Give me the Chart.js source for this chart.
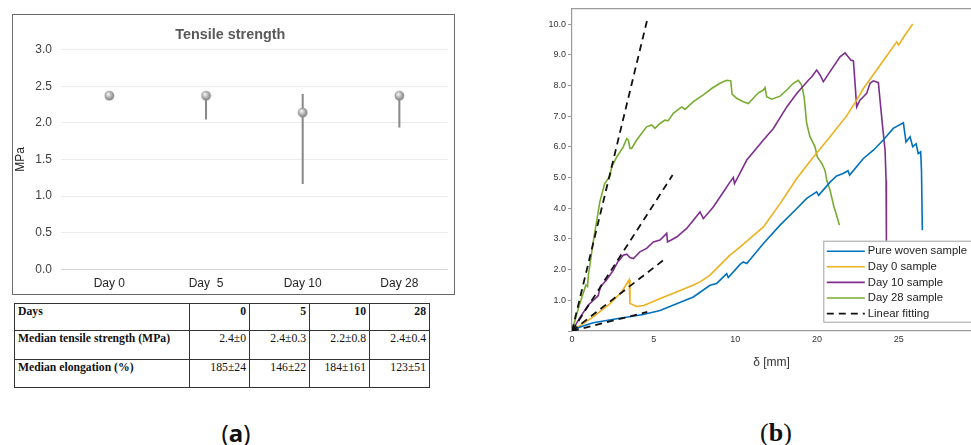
<!DOCTYPE html>
<html><head><meta charset="utf-8">
<script src="https://cdn.jsdelivr.net/npm/chart.js@4"></script>
<style>
html,body{margin:0;padding:0;background:#fff;width:971px;height:445px;overflow:hidden;position:relative;font-family:"Liberation Sans",Arial,sans-serif;}
#boxA{position:absolute;left:12px;top:14px;width:441px;height:279px;border:1px solid #6b6b6b;}
#boxB{position:absolute;left:520px;top:0;width:451px;height:380px;}
canvas{display:block}
table{position:absolute;left:14px;top:303px;width:415px;table-layout:fixed;border-collapse:collapse;font-family:"Liberation Serif","Times New Roman",serif;font-size:11.7px;color:#111;border:1.5px solid #222;}
td{border:1px solid #333;padding:1px 3px;vertical-align:top;text-align:right;}
td.h{text-align:left;font-weight:bold;}
tr.top td{font-weight:bold;}
.lab{position:absolute;top:418px;width:100px;text-align:center;font-size:24px;line-height:30px;color:#111;}
</style>
</head><body>
<div id="boxA"><canvas id="cA" width="441" height="279"></canvas></div>
<div id="boxB"><canvas id="cB" width="451" height="380"></canvas></div>
<table id="tbl">
<colgroup><col style="width:175px"><col style="width:60px"><col style="width:60px"><col style="width:60px"><col style="width:60px"></colgroup>
<tbody id="tb"></tbody>
</table>
<div class="lab" style="left:186px;font-family:'Noto Sans',sans-serif;">(<b>a</b>)</div>
<div class="lab" style="left:726px;font-family:'Liberation Serif',serif;font-size:26px;">(<b>b</b>)</div>
<script>
// ---------- data: panel (a) ----------
const days = ['Day 0', 'Day  5', 'Day 10', 'Day 28'];
const medianMPa = [2.37, 2.37, 2.14, 2.37];
const rangeLowMPa = [2.37, 2.05, 1.17, 1.94];
const rangeHighMPa = [2.37, 2.37, 2.39, 2.37];

// ---------- data: table ----------
const tableDays = ['0', '5', '10', '28'];
const tableStrength = ['2.4±0', '2.4±0.3', '2.2±0.8', '2.4±0.4'];
const tableElongation = ['185±24', '146±22', '184±161', '123±51'];

// ---------- data: panel (b) ----------
const xTickLabels = ['0', '5', '10', '20', '25'];
const pureWovenXY = [[0,0],[0.5,0.13],[1.3,0.27],[2.74,0.4],[4.37,0.54],[5.39,0.67],[6.41,0.89],[7.43,1.11],[8.45,1.49],[8.86,1.55],[9.47,1.87],[9.57,1.74],[10.29,2.17],[10.49,2.25],[10.7,2.2],[11.72,2.85],[12.74,3.45],[13.76,3.99],[14.37,4.32],[14.98,4.53],[15.1,4.42],[15.8,4.85],[16.2,5.05],[16.6,5.13],[16.9,5.22],[17.0,5.08],[17.84,5.62],[18.45,5.89],[19.06,6.22],[19.67,6.6],[20.29,6.78],[20.45,6.16],[20.7,6.33],[20.86,6.0],[21.07,6.1],[21.2,5.78],[21.35,5.84],[21.4,5.2],[21.45,3.28]];
const day0XY = [[0,0],[1.3,0.46],[2.33,0.89],[3.04,1.27],[3.5,1.67],[3.55,0.9],[3.96,0.8],[4.4,0.83],[5.4,1.06],[6.4,1.27],[7.4,1.49],[7.84,1.6],[8.45,1.82],[9.67,2.47],[10.3,2.74],[11.72,3.39],[12.74,4.15],[13.76,4.97],[14.78,5.67],[15.8,6.33],[16.8,7.0],[17.43,7.52],[17.84,7.9],[18.86,8.66],[19.88,9.42],[20.0,9.32],[20.4,9.65],[20.86,10.0]];
const day10XY = [[0,0],[0.5,0.45],[1.0,0.85],[1.3,1.0],[1.6,1.15],[1.75,1.45],[1.92,1.55],[2.1,1.65],[2.53,1.98],[2.8,2.25],[3.14,2.47],[3.35,2.5],[3.55,2.39],[3.76,2.36],[4.16,2.58],[4.57,2.69],[4.98,2.9],[5.39,2.96],[5.8,3.18],[5.85,2.9],[6.41,3.06],[7.02,3.34],[7.43,3.61],[7.84,3.88],[8.04,3.66],[8.65,4.04],[9.27,4.53],[9.67,4.85],[9.88,5.0],[9.95,4.8],[10.7,5.57],[11.72,6.22],[12.33,6.6],[13.15,7.3],[13.76,7.74],[14.47,8.17],[14.68,8.28],[14.98,8.5],[15.19,8.34],[15.39,8.12],[15.8,8.45],[16.41,8.93],[16.72,9.06],[16.92,8.93],[17.07,8.83],[17.23,8.8],[17.33,8.07],[17.43,7.3],[17.63,7.52],[17.84,7.63],[18.04,7.74],[18.25,8.07],[18.45,8.15],[18.76,8.09],[18.86,7.52],[19.02,6.65],[19.17,5.89],[19.23,4.91],[19.25,2.9]];
const day28XY = [[0,0],[0.45,0.85],[0.85,1.5],[0.95,1.45],[1.0,1.8],[1.3,2.9],[1.7,4.2],[2.0,4.8],[2.33,5.05],[2.43,5.35],[2.74,5.67],[3.14,6.0],[3.35,6.27],[3.45,6.22],[3.55,5.95],[3.65,5.95],[3.96,6.22],[4.27,6.44],[4.57,6.65],[4.88,6.71],[5.08,6.6],[5.39,6.76],[5.69,6.87],[5.9,6.85],[6.2,7.09],[6.72,7.3],[6.92,7.22],[7.43,7.47],[8.04,7.69],[8.55,7.9],[9.06,8.07],[9.47,8.17],[9.72,8.15],[9.8,7.72],[10.08,7.58],[10.49,7.47],[10.8,7.41],[11.1,7.58],[11.41,7.76],[11.72,7.85],[11.82,7.93],[11.92,7.63],[12.23,7.55],[12.74,7.65],[13.15,7.85],[13.55,8.07],[13.86,8.17],[14.06,8.01],[14.21,7.63],[14.37,6.76],[14.57,6.33],[14.88,6.0],[15.02,5.67],[15.29,5.46],[15.49,5.24],[15.6,4.91],[15.8,4.59],[16.04,4.04],[16.17,3.83],[16.37,3.45]];
const fitDay28XY = [[0,0],[4.61,10.15]];
const fitDay10XY = [[0,0],[6.16,5.08]];
const fitDay0XY = [[0,0],[5.65,2.33]];
const fitPureXY = [[0,0],[4.61,0.62]];
const legendLabels = ['Pure woven sample', 'Day 0 sample', 'Day 10 sample', 'Day 28 sample', 'Linear fitting'];

// ---------- table ----------
(function(){
  const tb = document.getElementById('tb');
  const rows = [['Days', tableDays, 24, true], ['Median tensile strength (MPa)', tableStrength, 26, false], ['Median elongation (%)', tableElongation, 25, false]];
  rows.forEach(r => {
    const tr = document.createElement('tr');
    if (r[3]) tr.className = 'top';
    const th = document.createElement('td'); th.className = 'h'; th.textContent = r[0]; th.style.height = r[2] + 'px'; tr.appendChild(th);
    r[1].forEach(v => { const td = document.createElement('td'); td.textContent = v; tr.appendChild(td); });
    tb.appendChild(tr);
  });
})();

// ---------- panel (a) ----------
const marker = document.createElement('canvas');
marker.width = 11; marker.height = 11;
(function(){
  const m = marker.getContext('2d');
  const g = m.createRadialGradient(4.2, 3.8, 0.5, 5.5, 5.5, 5.5);
  g.addColorStop(0, '#f4f4f4'); g.addColorStop(0.55, '#a8a8a8'); g.addColorStop(1, '#6e6e6e');
  m.fillStyle = g; m.beginPath(); m.arc(5.5, 5.5, 4.8, 0, Math.PI * 2); m.fill();
})();

new Chart(document.getElementById('cA'), {
  type: 'bar',
  data: {
    labels: days,
    datasets: [
      { type: 'line', data: medianMPa, showLine: false, pointStyle: marker, pointRadius: 5, order: 0 },
      { type: 'bar', data: days.map((d, i) => [rangeLowMPa[i], rangeHighMPa[i]]), backgroundColor: '#8a8a8a', barThickness: 1.4, borderWidth: 0, order: 1 }
    ]
  },
  options: {
    responsive: false, animation: false, devicePixelRatio: 1,
    layout: { padding: { left: 0, right: 6.3, top: 0, bottom: 0 } },
    plugins: {
      legend: { display: false }, tooltip: { enabled: false },
      title: { display: true, text: 'Tensile strength', color: '#595959', font: { family: '"Liberation Sans", Arial, sans-serif', size: 14.4, weight: 'bold' }, padding: { top: 11.4, bottom: 5.9 } }
    },
    scales: {
      x: { grid: { display: false, drawTicks: false }, border: { display: false },
        ticks: { color: '#262626', font: { family: '"Liberation Sans", Arial, sans-serif', size: 12 }, padding: 7 },
        afterFit(s) { s.height = 24.7; } },
      y: { min: 0, max: 3,
        ticks: { stepSize: 0.5, callback: v => Number(v).toFixed(1), padding: 9, color: '#404040', font: { family: '"Liberation Sans", Arial, sans-serif', size: 12 } },
        grid: { drawTicks: false, color: c => (c.tick && c.tick.value === 0) ? '#d4d4d4' : '#ebebeb' },
        border: { display: false },
        title: { display: true, text: 'MPa', padding: 0, color: '#222', font: { family: '"Liberation Sans", Arial, sans-serif', size: 12 } },
        afterFit(s) { s.width = 48; } }
    }
  }
});

// ---------- panel (b) ----------
const toPts = a => a.map(p => ({ x: p[0], y: p[1] }));
const curveColors = ['#0072BD', '#EDB120', '#7E2F8E', '#77AC30'];
const curves = [pureWovenXY, day0XY, day10XY, day28XY];
const fits = [fitDay28XY, fitDay10XY, fitDay0XY, fitPureXY];
const datasetsB = [];
curves.forEach((c, i) => datasetsB.push({ label: legendLabels[i], data: toPts(c), borderColor: curveColors[i], borderWidth: 1.6, pointRadius: 0, showLine: true, order: 2 }));
fits.forEach((f, i) => datasetsB.push({ label: legendLabels[4], data: toPts(f), borderColor: '#111', borderWidth: 1.8, borderDash: [7, 5], pointRadius: 0, showLine: true, order: 0 }));

const boxLegend = {
  id: 'boxLegend',
  afterDatasetsDraw(chart) {
    const ctx = chart.ctx, a = chart.chartArea;
    const w = 147, h = 81, x0 = a.right - w - 0.7, y0 = a.bottom - h - 9.3;
    ctx.save();
    ctx.fillStyle = '#fff'; ctx.fillRect(x0, y0, w + 2, h);
    ctx.strokeStyle = '#a0a0a0'; ctx.lineWidth = 1; ctx.strokeRect(x0 + 0.5, y0 + 0.5, w + 2, h);
    ctx.font = '11.3px "Liberation Sans", Arial, sans-serif';
    ctx.textBaseline = 'middle'; ctx.fillStyle = '#222';
    legendLabels.forEach((lab, i) => {
      const ds = chart.data.datasets[Math.min(i, 4)];
      const yy = y0 + 10.5 + i * 15.6;
      ctx.strokeStyle = ds.borderColor; ctx.lineWidth = ds.borderWidth;
      ctx.setLineDash(ds.borderDash || []);
      ctx.beginPath(); ctx.moveTo(x0 + 3.5, yy); ctx.lineTo(x0 + 41.5, yy); ctx.stroke();
      ctx.setLineDash([]);
      ctx.fillText(lab, x0 + 44.5, yy);
    });
    ctx.restore();
  }
};

const fontB = '"Liberation Sans", Arial, sans-serif';
new Chart(document.getElementById('cB'), {
  type: 'scatter',
  data: { datasets: datasetsB },
  plugins: [boxLegend],
  options: {
    responsive: false, animation: false, devicePixelRatio: 1,
    layout: { padding: { left: 0, right: 0, top: 9, bottom: 0 } },
    plugins: { legend: { display: false }, tooltip: { enabled: false } },
    elements: { line: { tension: 0 } },
    scales: {
      x: { type: 'linear', min: 0, max: 24.43,
        ticks: { stepSize: 5, includeBounds: false, callback: v => { const k = Math.round(v / 5); return xTickLabels[k] !== undefined ? xTickLabels[k] : ''; }, color: '#333', font: { family: fontB, size: 9 }, padding: 3, maxRotation: 0 },
        grid: { drawOnChartArea: false, drawTicks: false },
        border: { color: '#9a9a9a', width: 1.2 },
        title: { display: true, text: 'δ [mm]', color: '#333', font: { family: fontB, size: 12 }, padding: 10 },
        afterFit(s) { s.height = 49; } },
      xTop: { type: 'linear', position: 'top', min: 0, max: 24.43,
        ticks: { display: false }, grid: { drawOnChartArea: false, drawTicks: false },
        border: { color: '#9a9a9a', width: 1.2 },
        afterFit(s) { s.height = 0; } },
      y: { min: 0, max: 10.49,
        ticks: { stepSize: 1, includeBounds: false, callback: v => v === 0 ? '' : Number(v).toFixed(1), color: '#333', font: { family: fontB, size: 9 }, padding: 2 },
        grid: { drawOnChartArea: false, drawTicks: true, tickLength: 4, color: '#9a9a9a' },
        border: { color: '#9a9a9a', width: 1.2 },
        afterFit(s) { s.width = 52; } }
    }
  }
});
</script>
</body></html>
